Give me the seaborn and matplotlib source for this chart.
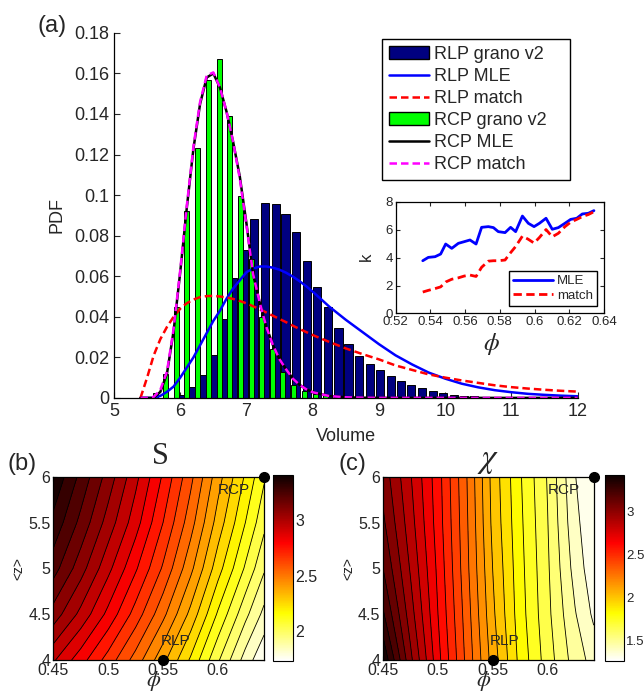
import numpy as np
import matplotlib
matplotlib.use("Agg")
import matplotlib.pyplot as plt
import seaborn as sns
from matplotlib.colors import Normalize
from matplotlib.cm import ScalarMappable
from matplotlib.lines import Line2D
from matplotlib.patches import Patch
from matplotlib.ticker import FormatStrFormatter

# ---- (a) histogram data ----
rlp_bins = [6.01, 6.17, 6.33, 6.49, 6.64, 6.80, 6.96, 7.12, 7.28, 7.44,
            7.59, 7.75, 7.91, 8.07, 8.23, 8.39, 8.54, 8.70, 8.86, 9.02,
            9.18, 9.33, 9.49, 9.65, 9.81, 9.97, 10.13, 10.28, 10.44, 10.60,
            10.76, 10.92, 11.07, 11.23, 11.39, 11.55, 11.71, 11.87]
rlp_hist = [0.0015, 0.0053, 0.0115, 0.021, 0.039, 0.059, 0.073, 0.088, 0.096, 0.0955,
            0.0907, 0.0819, 0.0676, 0.0546, 0.045, 0.0345, 0.0265, 0.0208, 0.0168, 0.0137,
            0.0107, 0.0084, 0.0063, 0.0048, 0.0033, 0.0023, 0.0015, 0.0010, 0.0007, 0.0005,
            0.0004, 0.0003, 0.0002, 0.0002, 0.0001, 0.0001, 0.0001, 0.0001]

rcp_bins = [5.62, 5.78, 5.94, 6.10, 6.26, 6.43, 6.59, 6.75, 6.91, 7.07,
            7.23, 7.39, 7.55, 7.71, 7.87, 8.04, 8.20]
rcp_hist = [0.0026, 0.0118, 0.045, 0.092, 0.123, 0.157, 0.167, 0.139, 0.0996, 0.0687,
            0.040, 0.024, 0.013, 0.0063, 0.0034, 0.0021, 0.0015]

# fitted curves
vol_grid = [5.4, 5.5, 5.6, 5.7, 5.8, 5.9, 6.0, 6.1, 6.2, 6.3, 6.4, 6.5, 6.6, 6.7,
            6.8, 6.9, 7.0, 7.1, 7.2, 7.3, 7.4, 7.5, 7.6, 7.7, 7.8, 7.9, 8.0,
            8.25, 8.5, 8.75, 9.0, 9.25, 9.5, 9.75, 10.0, 10.25, 10.5, 10.75,
            11.0, 11.25, 11.5, 11.75, 12.0]
rlp_mle = [0, 0, 0, 0.001, 0.003, 0.0056, 0.010, 0.015, 0.020, 0.026, 0.032, 0.038,
           0.043, 0.049, 0.054, 0.058, 0.062, 0.0638, 0.0648, 0.0648, 0.0642, 0.0632,
           0.0617, 0.0598, 0.0576, 0.0551, 0.0524, 0.045, 0.0385, 0.0325, 0.0265,
           0.021, 0.0165, 0.0125, 0.0095, 0.0070, 0.0052, 0.0038, 0.0028, 0.0020,
           0.0015, 0.0011, 0.0008]
rlp_match = [0, 0.010, 0.021, 0.029, 0.035, 0.040, 0.044, 0.0467, 0.0485, 0.0497,
             0.0502, 0.0503, 0.0500, 0.0495, 0.0488, 0.0478, 0.0466, 0.0452, 0.0437,
             0.0421, 0.0405, 0.0389, 0.0373, 0.0356, 0.0340, 0.0325, 0.0310, 0.0276,
             0.0244, 0.0216, 0.0190, 0.0160, 0.0138, 0.0116, 0.0100, 0.0086, 0.0074,
             0.0062, 0.0053, 0.0046, 0.0040, 0.0035, 0.0031]
rcp_mle = [0, 0, 0, 0.003, 0.012, 0.033, 0.062, 0.094, 0.123, 0.145, 0.158, 0.160,
           0.153, 0.141, 0.126, 0.109, 0.086, 0.061, 0.047, 0.035, 0.026, 0.019,
           0.014, 0.0095, 0.0065, 0.0043, 0.0028, 0.0009, 0.0003, 0.0001, 0, 0, 0,
           0, 0, 0, 0, 0, 0, 0, 0, 0, 0]
rcp_match = [0, 0, 0.0005, 0.004, 0.013, 0.034, 0.063, 0.095, 0.124, 0.146, 0.159,
             0.1605, 0.153, 0.141, 0.126, 0.108, 0.085, 0.061, 0.047, 0.035, 0.026,
             0.019, 0.014, 0.0095, 0.0065, 0.0043, 0.0028, 0.0009, 0.0003, 0.0001,
             0, 0, 0, 0, 0, 0, 0, 0, 0, 0, 0, 0, 0]

# inset: shape parameter k against packing fraction
phi_k = [0.5356, 0.5388, 0.5427, 0.5459, 0.5488, 0.5523, 0.5561, 0.5595, 0.5628,
         0.5663, 0.5695, 0.5734, 0.5763, 0.5791, 0.5830, 0.5862, 0.5891, 0.5930,
         0.5964, 0.5997, 0.6028, 0.6066, 0.6102, 0.6137, 0.6175, 0.6208, 0.6243,
         0.6275, 0.6310, 0.6342]
k_mle = [3.78, 4.02, 4.07, 4.26, 4.98, 4.67, 5.03, 5.15, 5.27, 4.98, 6.18, 6.23,
         6.16, 5.87, 5.80, 6.18, 5.87, 6.99, 6.47, 6.23, 6.47, 6.83, 6.04, 6.16,
         6.47, 6.75, 6.83, 7.14, 7.19, 7.38]
k_match = [1.53, 1.65, 1.78, 1.90, 2.25, 2.45, 2.55, 2.68, 2.75, 2.65, 3.31, 3.75,
           3.78, 3.78, 3.83, 4.36, 4.80, 5.55, 5.32, 5.05, 5.45, 6.02, 5.50, 5.75,
           6.23, 6.55, 6.75, 6.95, 7.10, 7.30]

# ---- (b), (c) maps over (phi, <z>) ----
phi_grid = [0.45, 0.475, 0.50, 0.525, 0.55, 0.575, 0.60, 0.625, 0.642]
z_grid = [4.0, 4.5, 5.0, 5.5, 6.0]
S_map = [
    [2.93, 2.81, 2.68, 2.54, 2.38, 2.21, 2.02, 1.84, 1.74],
    [3.10, 2.97, 2.83, 2.68, 2.52, 2.34, 2.14, 1.96, 1.85],
    [3.23, 3.09, 2.94, 2.79, 2.63, 2.45, 2.25, 2.07, 1.95],
    [3.32, 3.18, 3.03, 2.88, 2.71, 2.53, 2.33, 2.15, 2.03],
    [3.40, 3.25, 3.10, 2.94, 2.77, 2.59, 2.39, 2.21, 2.09],
]
chi_map = [
    [3.42, 3.02, 2.68, 2.38, 2.09, 1.84, 1.65, 1.48, 1.40],
    [3.27, 2.95, 2.65, 2.36, 2.06, 1.82, 1.63, 1.44, 1.33],
    [3.17, 2.90, 2.63, 2.34, 2.04, 1.81, 1.62, 1.40, 1.29],
    [3.10, 2.86, 2.61, 2.33, 2.02, 1.80, 1.61, 1.37, 1.28],
    [3.05, 2.83, 2.60, 2.32, 2.01, 1.79, 1.60, 1.35, 1.27],
]
S_range = (1.73, 3.41)
chi_range = (1.26, 3.43)
S_ticks = [2, 2.5, 3]
chi_ticks = [1.5, 2, 2.5, 3]
state_phi = [0.55, 0.642]
state_z = [4.0, 6.0]
state_names = ["RLP", "RCP"]

sns.set_style("ticks")
plt.rcParams["font.family"] = ["Liberation Sans", "DejaVu Sans"]
plt.rcParams["mathtext.fontset"] = "stix"
plt.rcParams["xtick.direction"] = "in"
plt.rcParams["ytick.direction"] = "in"
plt.rcParams["axes.edgecolor"] = "black"
plt.rcParams["axes.linewidth"] = 0.9

fig = plt.figure(figsize=(6.44, 6.92), dpi=100)

# ---------------- panel (a) ----------------
ax = fig.add_axes([0.177, 0.425, 0.72, 0.5275])
sns.barplot(x=rlp_bins, y=rlp_hist, native_scale=True, orient="x", width=0.82,
            color="#000080", saturation=1, edgecolor="black", linewidth=0.7,
            errorbar=None, legend=False, ax=ax)
sns.barplot(x=rcp_bins, y=rcp_hist, native_scale=True, orient="x", width=0.47,
            color="#00ff00", saturation=1, edgecolor="black", linewidth=0.7,
            errorbar=None, legend=False, ax=ax)

dash = (0, (3, 1.6))
sns.lineplot(x=vol_grid, y=rlp_mle, color="blue", linewidth=1.8,
             estimator=None, sort=False, ax=ax)
sns.lineplot(x=vol_grid, y=rlp_match, color="red", linewidth=1.8, linestyle=dash,
             estimator=None, sort=False, ax=ax)
sns.lineplot(x=vol_grid, y=rcp_mle, color="black", linewidth=1.8,
             estimator=None, sort=False, ax=ax)
sns.lineplot(x=vol_grid, y=rcp_match, color="magenta", linewidth=1.8, linestyle=dash,
             estimator=None, sort=False, ax=ax)

ax.set_xlim(5, 12)
ax.set_ylim(0, 0.18)
ax.set_xticks(range(5, 13))
ax.set_yticks(np.arange(0, 0.181, 0.02))
ax.yaxis.set_major_formatter(FormatStrFormatter("%g"))
ax.tick_params(labelsize=13, length=4, width=0.8)
sns.despine(ax=ax)
ax.set_xlabel("Volume", fontsize=13, labelpad=6)
ax.set_ylabel("PDF", fontsize=13, labelpad=6)

handles = [
    Patch(facecolor="#000080", edgecolor="black"),
    Line2D([], [], color="blue", lw=1.8),
    Line2D([], [], color="red", lw=1.8, linestyle=dash),
    Patch(facecolor="#00ff00", edgecolor="black"),
    Line2D([], [], color="black", lw=1.8),
    Line2D([], [], color="magenta", lw=1.8, linestyle=dash),
]
labels = ["RLP grano v2", "RLP MLE", "RLP match", "RCP grano v2", "RCP MLE", "RCP match"]
# box spans the same width as the reference legend
ax.legend(handles, labels, loc="upper left", bbox_to_anchor=(0.578, 0.5, 0.405, 0.484),
          mode="expand", fontsize=13, frameon=True, fancybox=False, edgecolor="black",
          framealpha=1, borderaxespad=0, handlelength=2.2, handletextpad=0.3,
          labelspacing=0.28, borderpad=0.4)

fig.text(0.081, 0.962, "(a)", fontsize=17, ha="center", va="center")

# inset
axi = fig.add_axes([0.6144, 0.5472, 0.3235, 0.1609])
sns.lineplot(x=phi_k, y=k_mle, color="blue", linewidth=2, estimator=None,
             sort=False, ax=axi, label="MLE")
sns.lineplot(x=phi_k, y=k_match, color="red", linewidth=2, linestyle=dash,
             estimator=None, sort=False, ax=axi, label="match")
axi.set_xlim(0.52, 0.64)
axi.set_ylim(0, 8)
axi.set_xticks(np.arange(0.52, 0.641, 0.02))
axi.set_yticks([0, 2, 4, 6, 8])
axi.xaxis.set_major_formatter(FormatStrFormatter("%g"))
axi.tick_params(labelsize=9.5, length=3, width=0.8, top=True, right=True, pad=2)
axi.set_xlabel("")
axi.set_ylabel("")
axi.legend(loc="lower right", bbox_to_anchor=(0.966, 0.066), fontsize=9.5,
           frameon=True, fancybox=False, edgecolor="black", framealpha=1,
           borderaxespad=0, handlelength=3.0, handletextpad=0.3,
           labelspacing=0.2, borderpad=0.3)
fig.text(0.5694, 0.629, "k", fontsize=12, rotation=90, ha="center", va="center")
fig.text(0.7635, 0.503, r"$\phi$", fontsize=18, ha="center", va="center")

# ---------------- panels (b) and (c) ----------------
panels = [
    (S_map, S_range, S_ticks, 0.0828, 0.4244, 25, "(b)", 0.034, "S", 0.2484, 11.5),
    (chi_map, chi_range, chi_ticks, 0.5947, 0.939, 26, "(c)", 0.548, r"$\chi$", 0.758, 9.5),
]
for vals, vrange, cticks, left, cleft, nlev, tag, tagx, title, titlex, cfs in panels:
    axp = fig.add_axes([left, 0.0462, 0.3272, 0.2649])
    norm = Normalize(*vrange)
    levels = np.linspace(vrange[0], vrange[1], nlev)
    axp.contourf(phi_grid, z_grid, vals, levels=levels, cmap="hot_r", norm=norm)
    axp.contour(phi_grid, z_grid, vals, levels=levels, colors="black", linewidths=0.6)
    axp.plot(state_phi, state_z, "o", color="black", ms=7, clip_on=False, zorder=5)
    axp.text(0.561, 4.21, state_names[0], fontsize=11, ha="center", va="center")
    axp.text(0.6145, 5.855, state_names[1], fontsize=11, ha="center", va="center")
    axp.set_xlim(0.45, 0.642)
    axp.set_ylim(4, 6)
    axp.set_xticks([0.45, 0.5, 0.55, 0.6])
    axp.set_yticks([4, 4.5, 5, 5.5, 6])
    axp.xaxis.set_major_formatter(FormatStrFormatter("%g"))
    axp.yaxis.set_major_formatter(FormatStrFormatter("%g"))
    axp.tick_params(labelsize=11.5, length=3, width=0.8, top=True, right=True, pad=2)

    cax = fig.add_axes([cleft, 0.0452, 0.0305, 0.2684])
    cb = fig.colorbar(ScalarMappable(norm=norm, cmap="hot_r"), cax=cax, ticks=cticks)
    cb.ax.yaxis.set_major_formatter(FormatStrFormatter("%g"))
    cb.ax.tick_params(labelsize=cfs, length=3, width=0.8, direction="in", pad=1.5)
    cb.outline.set_linewidth(0.8)

    fig.text(tagx, 0.329, tag, fontsize=17, ha="center", va="center")
    if title == "S":
        fig.text(titlex, 0.341, title, fontsize=22, ha="center", va="center",
                 family="Liberation Serif")
    else:
        fig.text(titlex, 0.334, title, fontsize=24, ha="center", va="center")
    fig.text(left - 0.0543, 0.178, "<z>", fontsize=10, rotation=90,
             ha="center", va="center")
    fig.text(left + 0.1556, 0.0152, r"$\phi$", fontsize=16, ha="center", va="center")

fig.savefig("out.png", dpi=100, facecolor="white")
